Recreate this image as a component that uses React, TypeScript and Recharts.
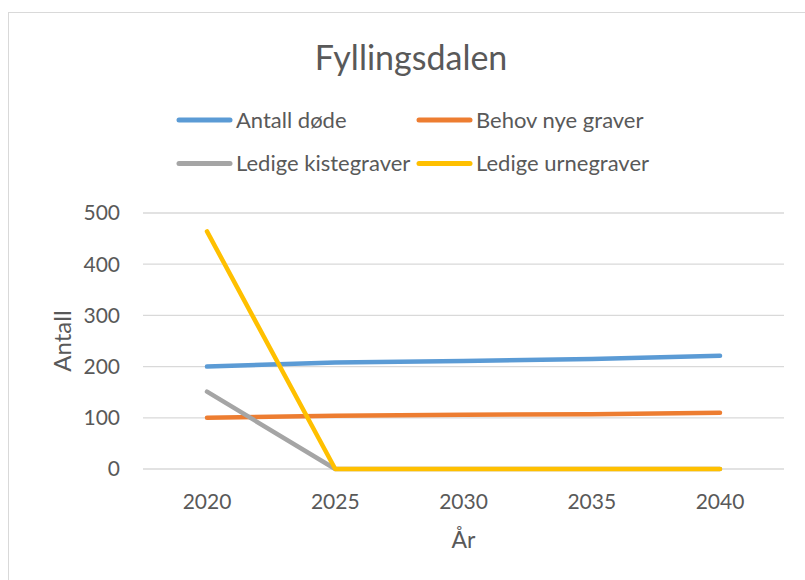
import React from 'react';
import { LineChart, Line, XAxis, YAxis, CartesianGrid, Legend, Label } from 'recharts';

const years = ['2020', '2025', '2030', '2035', '2040'];
const antallDode = [200, 208, 211, 215, 221];
const behovNyeGraver = [100, 104, 106, 107, 110];
const ledigeKistegraver = [151, 0, 0, 0, 0];
const ledigeUrnegraver = [464, 0, 0, 0, 0];
const yTicks = [0, 100, 200, 300, 400, 500];

const seriesDefs = [
  { key: 'antall', name: 'Antall døde', color: '#5B9BD5', values: antallDode },
  { key: 'behov', name: 'Behov nye graver', color: '#ED7D31', values: behovNyeGraver },
  { key: 'kiste', name: 'Ledige kistegraver', color: '#A5A5A5', values: ledigeKistegraver },
  { key: 'urne', name: 'Ledige urnegraver', color: '#FFC000', values: ledigeUrnegraver },
];

const data = years.map((y, i) => {
  const row: any = { year: y };
  seriesDefs.forEach((s) => (row[s.key] = s.values[i]));
  return row;
});

const FONT = 'Lato, "Open Sans", sans-serif';
const TEXT = '#595959';

const legendSlots = [
  { x: 177, y: 120 },
  { x: 417, y: 120 },
  { x: 177, y: 163.5 },
  { x: 417, y: 163.5 },
];

const LegendContent = (props: any) => {
  const payload = props.payload || [];
  return (
    <svg width={805} height={190} style={{ display: 'block' }}>
      {payload.map((p: any, i: number) => {
        const slot = legendSlots[i];
        if (!slot) return null;
        return (
          <g key={i}>
            <line x1={slot.x + 2} x2={slot.x + 53} y1={slot.y} y2={slot.y} stroke={p.color} strokeWidth={5} strokeLinecap="round" />
            <text x={slot.x + 59} y={slot.y + 7.5} fill={TEXT} fontSize={22} fontFamily={FONT}>{p.value}</text>
          </g>
        );
      })}
    </svg>
  );
};

const YLabel = (props: any) => {
  const vb = props.viewBox || { x: 0, y: 0, width: 0, height: 0 };
  const cx = vb.x + 31;
  const cy = vb.y + vb.height / 2;
  return (
    <text x={cx} y={cy} textAnchor="middle" transform={`rotate(-90, ${cx}, ${cy})`} fill={TEXT} fontSize={24} fontFamily={FONT}>
      Antall
    </text>
  );
};

export default function App() {
  return (
    <div style={{ position: 'absolute', left: 0, top: 0, width: 805, height: 580, overflow: 'hidden', background: '#fff' }}>
      <div style={{ position: 'absolute', left: 8, top: 12, width: 900, height: 700, border: '1.5px solid #d9d9d9' }} />
      <svg width={805} height={100} style={{ position: 'absolute', left: 0, top: 0 }}>
        <text x={411} y={70} textAnchor="middle" fill={TEXT} fontSize={34} fontFamily={FONT}>Fyllingsdalen</text>
      </svg>
      <div style={{ position: 'absolute', left: 0, top: 0 }}>
        <LineChart width={805} height={580} data={data} margin={{ top: 213, right: 21, bottom: 21, left: 40 }}>
          <CartesianGrid vertical={false} stroke="#d9d9d9" strokeWidth={1.3} />
          <XAxis
            dataKey="year"
            axisLine={false}
            tickLine={false}
            padding={{ left: 64, right: 64 }}
            height={90}
            tickMargin={19}
            tick={{ fill: TEXT, fontSize: 21, fontFamily: FONT }}
          >
            <Label value="År" position="insideBottom" offset={11} fill={TEXT} fontSize={23} fontFamily={FONT} />
          </XAxis>
          <YAxis
            domain={[0, 500]}
            ticks={yTicks}
            axisLine={false}
            tickLine={false}
            width={103}
            tickMargin={17}
            tick={{ fill: TEXT, fontSize: 21, fontFamily: FONT }}
            label={<YLabel />}
          />
          <Legend
            verticalAlign="middle"
            align="center"
            layout="horizontal"
            wrapperStyle={{ top: 0, left: 0, width: 805, height: 190 }}
            content={<LegendContent />}
          />
          {seriesDefs.map((s) => (
            <Line
              key={s.key}
              type="linear"
              dataKey={s.key}
              name={s.name}
              stroke={s.color}
              strokeWidth={4.5}
              strokeLinecap="round"
              strokeLinejoin="round"
              dot={false}
              activeDot={false}
              isAnimationActive={false}
            />
          ))}
        </LineChart>
      </div>
    </div>
  );
}
